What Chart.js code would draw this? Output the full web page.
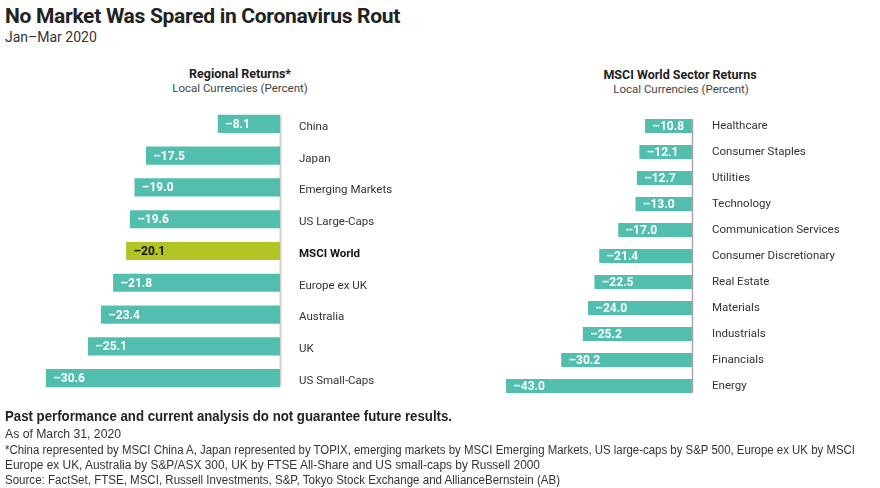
<!DOCTYPE html>
<html><head><meta charset="utf-8">
<script src="https://cdn.jsdelivr.net/npm/chart.js@4"></script>
<style>
body{margin:0;width:880px;height:488px;position:relative;background:#fff;overflow:hidden;font-family:Roboto,"Liberation Sans",sans-serif;color:#222}
.t{position:absolute;white-space:nowrap}
canvas{position:absolute;top:0}
.f{position:absolute;left:5px;white-space:nowrap;font-family:"Liberation Sans",Arial,sans-serif;font-size:12.5px;color:#333;transform-origin:0 50%;line-height:16px}
</style></head><body>
<div class="t" style="left:5px;top:4px;font-size:21px;font-weight:bold;color:#222;letter-spacing:-0.3px">No Market Was Spared in Coronavirus Rout</div>
<div class="t" style="left:5px;top:29px;font-size:14px;color:#333">Jan–Mar 2020</div>
<div class="t" style="left:240px;top:66px;transform:translateX(-50%);font-size:12.5px;font-weight:bold;text-align:center;color:#222">Regional Returns*</div>
<div class="t" style="left:240px;top:81px;transform:translateX(-50%);font-size:11.5px;color:#444">Local Currencies (Percent)</div>
<div class="t" style="left:680px;top:67px;transform:translateX(-50%);font-size:12.5px;font-weight:bold;color:#222">MSCI World Sector Returns</div>
<div class="t" style="left:681px;top:82px;transform:translateX(-50%);font-size:11.5px;color:#444">Local Currencies (Percent)</div>
<canvas id="c1" width="440" height="488" style="left:0"></canvas>
<canvas id="c2" width="440" height="488" style="left:440px"></canvas>
<div class="f" data-w="447" style="top:408px;font-size:14px;font-weight:bold;color:#222">Past performance and current analysis do not guarantee future results.</div>
<div class="f" data-w="116" style="top:426px">As of March 31, 2020</div>
<div class="f" data-w="850" style="top:441.5px">*China represented by MSCI China A, Japan represented by TOPIX, emerging markets by MSCI Emerging Markets, US large-caps by S&amp;P 500, Europe ex UK by MSCI</div>
<div class="f" data-w="535" style="top:457px">Europe ex UK, Australia by S&amp;P/ASX 300, UK by FTSE All-Share and US small-caps by Russell 2000</div>
<div class="f" data-w="555" style="top:472px">Source: FactSet, FTSE, MSCI, Russell Investments, S&amp;P, Tokyo Stock Exchange and AllianceBernstein (AB)</div>
<script>
const regionCats = ["China","Japan","Emerging Markets","US Large-Caps","MSCI World","Europe ex UK","Australia","UK","US Small-Caps"];
const regionVals = [-8.1,-17.5,-19.0,-19.6,-20.1,-21.8,-23.4,-25.1,-30.6];
const sectorCats = ["Healthcare","Consumer Staples","Utilities","Technology","Communication Services","Consumer Discretionary","Real Estate","Materials","Industrials","Financials","Energy"];
const sectorVals = [-10.8,-12.1,-12.7,-13.0,-17.0,-21.4,-22.5,-24.0,-25.2,-30.2,-43.0];
const highlight = "MSCI World";

document.querySelectorAll(".f").forEach(el => {
  const w = el.getBoundingClientRect().width;
  el.style.transform = "scaleX(" + (parseFloat(el.dataset.w) / w) + ")";
});

const TEAL = "#52bfae", LIME = "#b2c424";
const FONT = "Roboto, 'Liberation Sans', sans-serif";

const valuePlugin = {
  id: "vals",
  beforeDatasetsDraw(chart) {
    const x = chart.scales.x, ctx = chart.ctx;
    const meta = chart.getDatasetMeta(0);
    const first = meta.data[0], last = meta.data[meta.data.length - 1];
    const px = Math.round(x.getPixelForValue(0)) + 0.5;
    ctx.save();
    ctx.strokeStyle = chart.options.zeroColor;
    ctx.lineWidth = chart.options.zeroWidth;
    ctx.beginPath();
    ctx.moveTo(px, first.y - first.height / 2);
    ctx.lineTo(px, last.y + last.height / 2);
    ctx.stroke();
    ctx.restore();
  },
  afterDatasetsDraw(chart) {
    const ctx = chart.ctx;
    const meta = chart.getDatasetMeta(0);
    const ds = chart.data.datasets[0];
    ctx.save();
    ctx.font = "bold 12px " + FONT;
    ctx.textBaseline = "middle";
    ctx.textAlign = "left";
    meta.data.forEach((el, i) => {
      const lab = chart.data.labels[i];
      ctx.fillStyle = lab === highlight ? "#111" : "#fff";
      const v = ds.data[i].toFixed(1).replace("-", "\u2013");
      ctx.fillText(v, el.x + 7, el.y + 1);
    });
    ctx.restore();
  }
};

function make(id, cats, vals, opts) {
  return new Chart(document.getElementById(id), {
    type: "bar",
    data: {
      labels: cats,
      datasets: [{
        data: vals,
        backgroundColor: cats.map(c => c === highlight ? LIME : TEAL),
        borderWidth: 0,
        barThickness: opts.bar
      }]
    },
    options: {
      responsive: false,
      animation: false,
      indexAxis: "y",
      zeroColor: opts.zeroColor,
      zeroWidth: opts.zeroWidth,
      layout: { padding: { top: opts.top, bottom: opts.bottom, left: 0, right: 0 } },
      plugins: { legend: { display: false }, tooltip: { enabled: false } },
      scales: {
        x: { display: false, min: opts.min, max: 0 },
        y: {
          position: "right",
          grid: { display: false },
          border: { display: false },
          afterFit(s) { s.width = opts.axisW; },
          ticks: {
            padding: opts.pad,
            labelOffset: opts.lo,
            font: c => ({ family: FONT, size: 11.5, weight: cats[c.index] === highlight ? "bold" : "normal" }),
            color: c => cats[c.index] === highlight ? "#111" : "#333"
          }
        }
      }
    },
    plugins: [valuePlugin]
  });
}

make("c1", regionCats, regionVals, { bar: 17.5, top: 108, bottom: 94, min: -280 / 7.64, axisW: 160, pad: 11, lo: 3, zeroColor: "#d0d0d0", zeroWidth: 2 });
make("c2", sectorCats, sectorVals, { bar: 13.5, top: 113, bottom: 89, min: -252 / 4.32, axisW: 188, pad: 12, lo: 0, zeroColor: "#a8a8a8", zeroWidth: 1.5 });
</script>
</body></html>
